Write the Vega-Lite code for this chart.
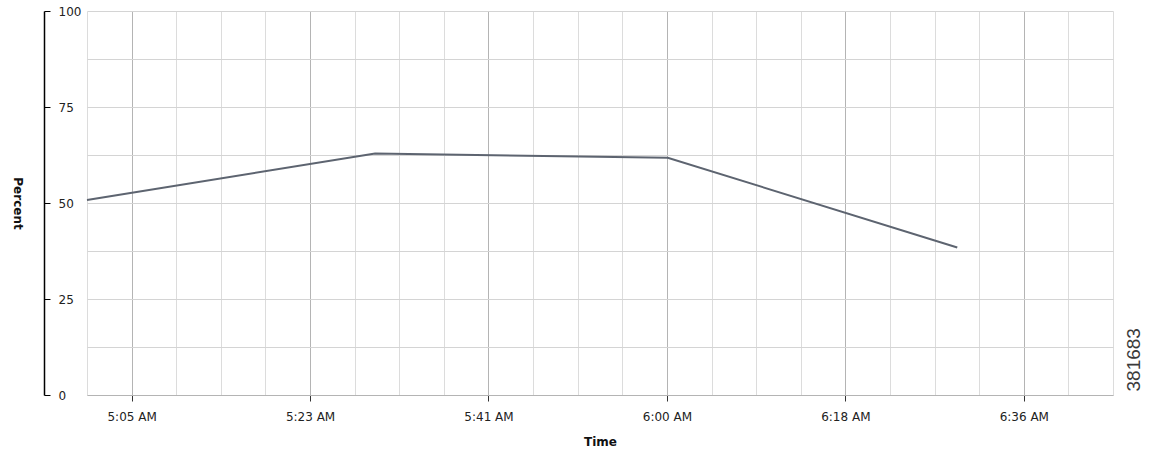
{
  "$schema": "https://vega.github.io/schema/vega-lite/v6.json",
  "width": 1026,
  "height": 384,
  "autosize": "none",
  "padding": {"left": 87, "top": 11, "right": 46, "bottom": 59},
  "background": "white",
  "data": {
    "values": [
      {"time": "2013-01-01T05:00:57", "percent": 50.8},
      {"time": "2013-01-01T05:30:20", "percent": 62.9},
      {"time": "2013-01-01T06:00:11", "percent": 61.8},
      {"time": "2013-01-01T06:29:43", "percent": 38.4}
    ]
  },
  "resolve": {"scale": {"x": "independent", "y": "independent"}},
  "layer": [
    {
      "mark": {"type": "line", "strokeOpacity": 0},
      "encoding": {
        "x": {
          "field": "time",
          "type": "temporal",
          "scale": {
            "domain": [
              {"year": 2013, "month": 1, "date": 1, "hours": 5, "minutes": 0, "seconds": 57},
              {"year": 2013, "month": 1, "date": 1, "hours": 6, "minutes": 45, "seconds": 36}
            ]
          },
          "axis": {
            "orient": "top",
            "values": [
              {"year": 2013, "month": 1, "date": 1, "hours": 5, "minutes": 0, "seconds": 57},
              {"year": 2013, "month": 1, "date": 1, "hours": 5, "minutes": 5, "seconds": 30},
              {"year": 2013, "month": 1, "date": 1, "hours": 5, "minutes": 10, "seconds": 3},
              {"year": 2013, "month": 1, "date": 1, "hours": 5, "minutes": 14, "seconds": 36},
              {"year": 2013, "month": 1, "date": 1, "hours": 5, "minutes": 19, "seconds": 9},
              {"year": 2013, "month": 1, "date": 1, "hours": 5, "minutes": 23, "seconds": 42},
              {"year": 2013, "month": 1, "date": 1, "hours": 5, "minutes": 28, "seconds": 15},
              {"year": 2013, "month": 1, "date": 1, "hours": 5, "minutes": 32, "seconds": 48},
              {"year": 2013, "month": 1, "date": 1, "hours": 5, "minutes": 37, "seconds": 21},
              {"year": 2013, "month": 1, "date": 1, "hours": 5, "minutes": 41, "seconds": 54},
              {"year": 2013, "month": 1, "date": 1, "hours": 5, "minutes": 46, "seconds": 27},
              {"year": 2013, "month": 1, "date": 1, "hours": 5, "minutes": 51, "seconds": 0},
              {"year": 2013, "month": 1, "date": 1, "hours": 5, "minutes": 55, "seconds": 33},
              {"year": 2013, "month": 1, "date": 1, "hours": 6, "minutes": 0, "seconds": 6},
              {"year": 2013, "month": 1, "date": 1, "hours": 6, "minutes": 4, "seconds": 39},
              {"year": 2013, "month": 1, "date": 1, "hours": 6, "minutes": 9, "seconds": 12},
              {"year": 2013, "month": 1, "date": 1, "hours": 6, "minutes": 13, "seconds": 45},
              {"year": 2013, "month": 1, "date": 1, "hours": 6, "minutes": 18, "seconds": 18},
              {"year": 2013, "month": 1, "date": 1, "hours": 6, "minutes": 22, "seconds": 51},
              {"year": 2013, "month": 1, "date": 1, "hours": 6, "minutes": 27, "seconds": 24},
              {"year": 2013, "month": 1, "date": 1, "hours": 6, "minutes": 31, "seconds": 57},
              {"year": 2013, "month": 1, "date": 1, "hours": 6, "minutes": 36, "seconds": 30},
              {"year": 2013, "month": 1, "date": 1, "hours": 6, "minutes": 41, "seconds": 3},
              {"year": 2013, "month": 1, "date": 1, "hours": 6, "minutes": 45, "seconds": 36}
            ],
            "grid": true,
            "gridColor": "#dcdcdc",
            "labels": false,
            "ticks": false,
            "domain": false,
            "title": null
          }
        },
        "y": {
          "field": "percent",
          "type": "quantitative",
          "scale": {"domain": [0, 100], "nice": false},
          "axis": {
            "orient": "right",
            "values": [0, 12.5, 25, 37.5, 50, 62.5, 75, 87.5, 100],
            "grid": true,
            "gridColor": "#d4d4d4",
            "labels": false,
            "ticks": false,
            "domain": false,
            "title": "381683",
            "titleFont": "Liberation Sans",
            "titleFontSize": 19,
            "titleFontWeight": "normal",
            "titleColor": "#3a3a3a",
            "titleAngle": 270,
            "titleAnchor": "start",
            "titleAlign": "left",
            "titlePadding": 30,
            "titleY": 380
          }
        }
      }
    },
    {
      "mark": {"type": "line", "color": "#5d6470", "strokeWidth": 2},
      "encoding": {
        "x": {
          "field": "time",
          "type": "temporal",
          "scale": {
            "domain": [
              {"year": 2013, "month": 1, "date": 1, "hours": 5, "minutes": 0, "seconds": 57},
              {"year": 2013, "month": 1, "date": 1, "hours": 6, "minutes": 45, "seconds": 36}
            ]
          },
          "axis": {
            "orient": "bottom",
            "values": [
              {"year": 2013, "month": 1, "date": 1, "hours": 5, "minutes": 5, "seconds": 30},
              {"year": 2013, "month": 1, "date": 1, "hours": 5, "minutes": 23, "seconds": 42},
              {"year": 2013, "month": 1, "date": 1, "hours": 5, "minutes": 41, "seconds": 54},
              {"year": 2013, "month": 1, "date": 1, "hours": 6, "minutes": 0, "seconds": 6},
              {"year": 2013, "month": 1, "date": 1, "hours": 6, "minutes": 18, "seconds": 18},
              {"year": 2013, "month": 1, "date": 1, "hours": 6, "minutes": 36, "seconds": 30}
            ],
            "format": "%-I:%M %p",
            "grid": true,
            "gridColor": "#b4b4b4",
            "domainColor": "#b4b4b4",
            "tickColor": "#333333",
            "tickSize": 6,
            "labelFont": "DejaVu Sans",
            "labelFontSize": 12,
            "labelColor": "#222222",
            "labelPadding": 10,
            "labelOverlap": false,
            "labelFlush": false,
            "title": "Time",
            "titleFont": "DejaVu Sans",
            "titleFontSize": 12,
            "titleFontWeight": "bold",
            "titleColor": "#111111",
            "titlePadding": 14
          }
        },
        "y": {
          "field": "percent",
          "type": "quantitative",
          "scale": {"domain": [0, 100], "nice": false},
          "axis": {
            "orient": "left",
            "offset": 43,
            "values": [0, 25, 50, 75, 100],
            "grid": false,
            "domainColor": "#000000",
            "domainWidth": 1.5,
            "tickColor": "#000000",
            "tickSize": -6,
            "labelAlign": "left",
            "labelPadding": -8,
            "labelFont": "DejaVu Sans",
            "labelFontSize": 12,
            "labelColor": "#222222",
            "title": "Percent",
            "titleFont": "DejaVu Sans",
            "titleFontSize": 12,
            "titleFontWeight": "bold",
            "titleColor": "#111111",
            "titleAngle": 90,
            "titlePadding": 33
          }
        }
      }
    }
  ],
  "config": {
    "view": {"stroke": null}
  }
}
